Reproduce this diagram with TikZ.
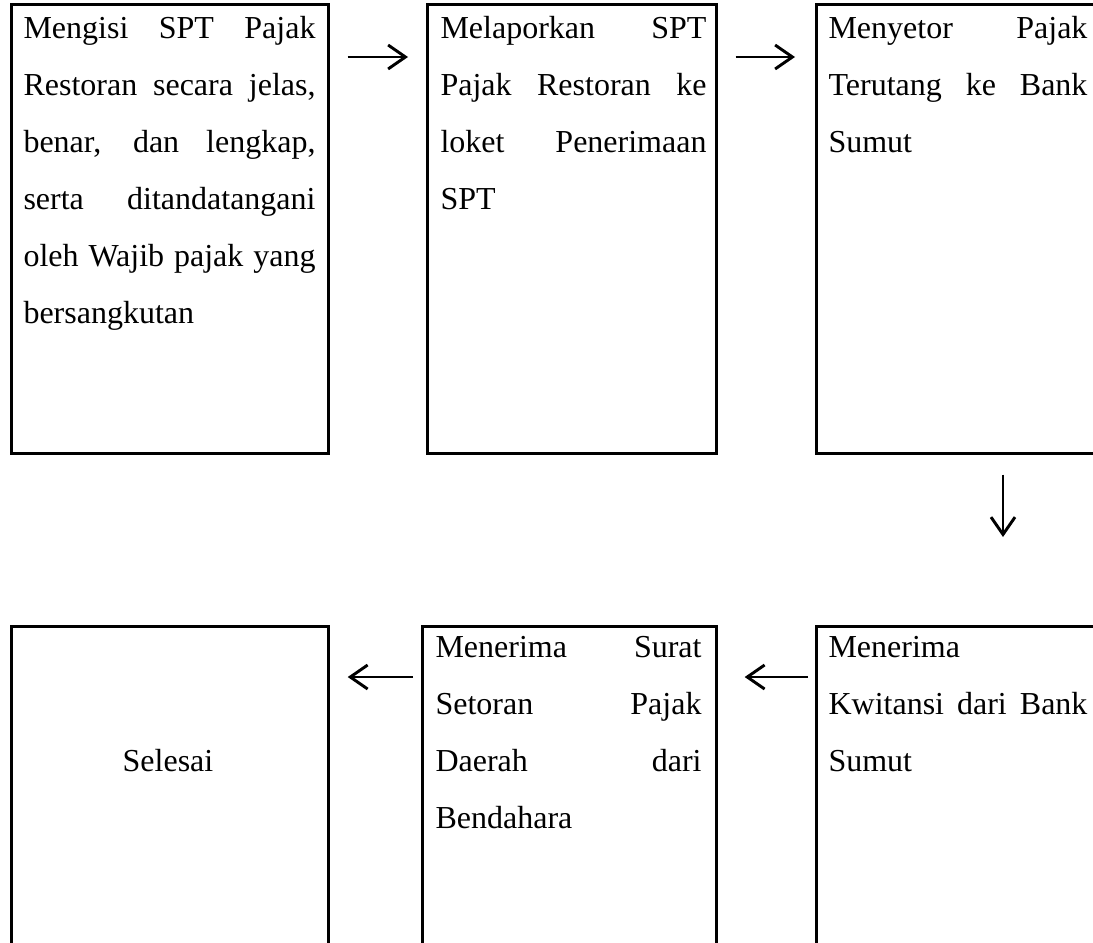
\documentclass[tikz,border=0pt]{standalone}
\usepackage{fontspec}
\setmainfont{Liberation Serif}
\usetikzlibrary{arrows.meta, calc}
\tolerance=10000
\hyphenpenalty=10000
\tikzstyle{kotak} = [rectangle, draw=black, line width=1pt, anchor=north west, minimum height=168.4pt]
\tikzstyle{isi} = [anchor=base west, inner sep=0pt, align=justify, font=\fontsize{12}{21.4}\selectfont]
\tikzstyle{arrow} = [line width=1pt, -{Straight Barb[length=6.5pt,width=9pt,line width=1.1pt]}]

\begin{document}
\begin{tikzpicture}[x=0.375pt, y=-0.375pt]
  \useasboundingbox (0,0) rectangle (1093,942);
  \clip (0,0) rectangle (1093,942);

  % baris atas
  \node[kotak, minimum width=118.9pt] (box1) at (10,3) {};
  \node[kotak, minimum width=108.4pt] (box2) at (426,3) {};
  \node[kotak, minimum width=112.5pt] (box3) at (815,3) {};
  \node[isi, text width=109.5pt] (isi1) at ($(box1.north west)+(13,35)$)
    {Mengisi SPT Pajak\linebreak Restoran secara jelas,\linebreak benar, dan lengkap,\linebreak serta ditandatangani\linebreak oleh Wajib pajak yang\linebreak bersangkutan};
  \node[isi, text width=99.75pt] (isi2) at ($(box2.north west)+(14,35)$)
    {Melaporkan SPT\linebreak Pajak Restoran ke\linebreak loket Penerimaan\linebreak SPT};
  \node[isi, text width=97.1pt] (isi3) at ($(box3.north west)+(13,35)$)
    {Menyetor Pajak\linebreak Terutang ke Bank\linebreak Sumut};

  % baris bawah
  \node[kotak, minimum width=118.9pt] (box4) at (10,625) {};
  \node[kotak, minimum width=110.25pt] (box5) at (421,625) {};
  \node[kotak, minimum width=112.5pt] (box6) at (815,625) {};
  \node[isi, anchor=base] (isi4) at ($(box4.north west)+(158,146)$) {Selesai};
  \node[isi, text width=99.75pt] (isi5) at ($(box5.north west)+(14,32)$)
    {Menerima Surat\linebreak Setoran Pajak\linebreak Daerah dari\linebreak Bendahara};
  \node[isi, text width=97.1pt] (isi6) at ($(box6.north west)+(13,32)$)
    {Menerima\linebreak Kwitansi dari Bank\linebreak Sumut};

  % panah
  \draw[arrow] ($(box1.north east)+(18,54)$) -- ($(box2.north west)+(-18,54)$);
  \draw[arrow] ($(box2.north east)+(18,54)$) -- ($(box3.north west)+(-20,54)$);
  \draw[arrow] ($(box3.south west)+(188,20)$) -- ($(box6.north west)+(188,-88)$);
  \draw[arrow] ($(box6.north west)+(-7,52)$) -- ($(box5.north east)+(27,52)$);
  \draw[arrow] ($(box5.north west)+(-8,52)$) -- ($(box4.north east)+(18,52)$);
\end{tikzpicture}
\end{document}
